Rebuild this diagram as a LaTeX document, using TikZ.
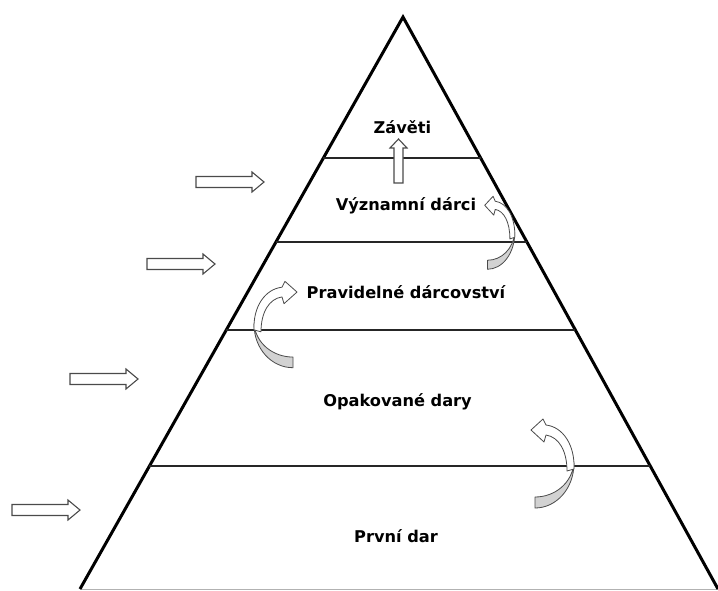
\documentclass[tikz,border=0pt]{standalone}
\usepackage{fontspec}
\setmainfont{DejaVu Sans}
\usetikzlibrary{calc}
\definecolor{arrowline}{HTML}{4A4A4A}
\definecolor{ribbon}{HTML}{D2D2D2}
\tikzset{
  lbl/.style={font=\fontsize{16.2}{19}\selectfont\bfseries, anchor=base, inner sep=0pt},
  side/.style={line width=3pt, line join=miter, black},
  hline/.style={line width=2.4pt, black!85},
  barrow/.style={draw=arrowline, line width=1.1pt, fill=white, line join=miter},
  cpart/.style={draw=arrowline, line width=0.8pt, line join=round},
}
\newcommand{\curvarrow}{%
  \path[cpart, fill=ribbon] (0,32) -- (0,43) .. controls (21,43) and (39,24) .. (39,-2)
     .. controls (37,18) and (20,32) .. (0,32) -- cycle;
  \path[cpart, fill=white] (39,4) .. controls (40,-20) and (28,-38) .. (11,-40)
     -- (8,-46) -- (-4,-35) -- (9,-23) -- (11,-30)
     .. controls (24,-28) and (32,-14) .. (32,6) -- cycle;
}
\begin{document}
\begin{tikzpicture}[x=1pt, y=-1pt]
\useasboundingbox (0,0) rectangle (718,590);
% pyramid
\coordinate (A) at (403,17);
\coordinate (BL) at (80,589);
\coordinate (BR) at (718,589);
\draw[gray!60, line width=1pt] (BL) -- (BR);
\draw[side] (BL) -- (A) -- (BR);
\coordinate (L1) at ($(A)!0.2465!(BL)$); \coordinate (R1) at ($(A)!0.2465!(BR)$);
\coordinate (L2) at ($(A)!0.3934!(BL)$); \coordinate (R2) at ($(A)!0.3934!(BR)$);
\coordinate (L3) at ($(A)!0.5472!(BL)$); \coordinate (R3) at ($(A)!0.5472!(BR)$);
\coordinate (L4) at ($(A)!0.7850!(BL)$); \coordinate (R4) at ($(A)!0.7850!(BR)$);
\draw[hline] (L1) -- (R1);
\draw[hline] (L2) -- (R2);
\draw[hline] (L3) -- (R3);
\draw[hline] (L4) -- (R4);
% labels
\node[lbl] (t1) at (402.5,133) {Závěti};
\node[lbl] (t2) at (406,210.5) {Významní dárci};
\node[lbl] (t3) at (406,298) {Pravidelné dárcovství};
\node[lbl] (t4) at (397.5,406) {Opakované dary};
\node[lbl] (t5) at (396,542) {První dar};
% up arrow
\draw[barrow, shift={(398.5,183)}] (-4.5,0) -- (-4.5,-35) -- (-8.5,-35) -- (0,-44)
   -- (8.5,-35) -- (4.5,-35) -- (4.5,0) -- cycle;
% block arrows on the left
\foreach \bx/\by in {196/182, 147/264, 70/379, 12/510}{
  \draw[barrow, shift={(\bx,\by)}] (0,-5.5) -- (56,-5.5) -- (56,-10) -- (68,0)
     -- (56,10) -- (56,5.5) -- (0,5.5) -- cycle;
}
% curved arrows
\begin{scope}[shift={(487.5,234)}, xscale=0.7, yscale=0.82]
  \curvarrow
\end{scope}
\begin{scope}[shift={(293,326)}, xscale=-1, yscale=0.97]
  \curvarrow
\end{scope}
\begin{scope}[shift={(535,465)}]
  \curvarrow
\end{scope}
\end{tikzpicture}
\end{document}
